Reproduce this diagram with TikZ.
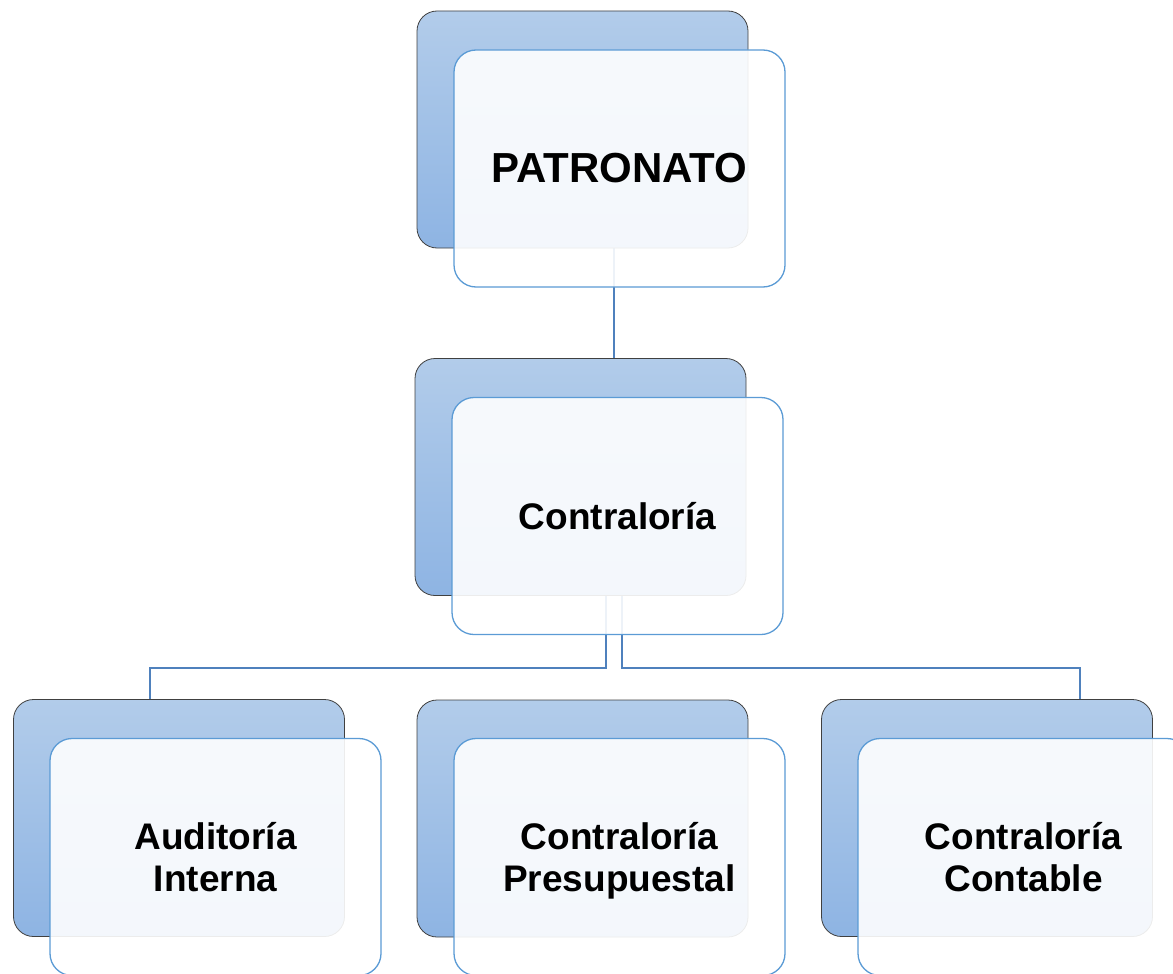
\documentclass[tikz,border=0pt]{standalone}
\usepackage{fontspec}
\setmainfont{Liberation Sans}
\definecolor{conn}{HTML}{4F81BD}
\definecolor{backtop}{HTML}{B2CCEA}
\definecolor{backbot}{HTML}{8EB4E3}
\definecolor{frontline}{HTML}{5B9BD5}
\definecolor{backline}{HTML}{404040}
\pgfdeclarelayer{background}
\pgfsetlayers{background,main}
\begin{document}
\begin{tikzpicture}[x=1pt,y=-1pt,
  backbox/.style={rectangle, rounded corners=20pt, minimum width=331pt, minimum height=237pt,
    draw=backline, line width=0.8pt, top color=backtop, bottom color=backbot, inner sep=0pt},
  frontbox/.style={rectangle, rounded corners=22pt, minimum width=331pt, minimum height=237pt,
    draw=frontline, line width=1.3pt, fill=white, fill opacity=0.9, text opacity=1,
    inner sep=0pt, align=center},
  bigtxt/.style={font=\fontsize{42}{48}\selectfont\bfseries},
  midtxt/.style={font=\fontsize{37}{42.5}\selectfont\bfseries, text depth=0pt},
  connector/.style={draw=conn, line width=2.6pt}]
\useasboundingbox (0,0) rectangle (1173,974);

% back boxes
\node[backbox] (pb) at (582.5,129.5) {};
\node[backbox] (cb) at (580.5,477) {};
\node[backbox] (ab) at (179,818) {};
\node[backbox] (sb) at (582.5,818.5) {};
\node[backbox] (eb) at (987,818) {};

% front boxes with text
\node[frontbox, bigtxt] (pf) at (619.5,168.5) {PATRONATO};
\node[frontbox, midtxt] (cf) at (617.5,516) {Contraloría};
\node[frontbox, midtxt] (af) at (215.5,857) {Auditoría\\Interna};
\node[frontbox, midtxt] (sf) at (619.5,857) {Contraloría\\Presupuestal};
\node[frontbox, midtxt] (ef) at (1023.5,857) {Contraloría\\Contable};

% connectors
\coordinate (j0) at (614,0);
\coordinate (jl) at (606,668);
\coordinate (jr) at (622,668);
\coordinate (xl) at (150,0);
\coordinate (xr) at (1080,0);
\begin{pgfonlayer}{background}
\draw[connector] (pb.south -| j0) -- (cb.north -| j0);
\draw[connector] (cb.south -| jl) -- (jl) -| (ab.north -| xl);
\draw[connector] (cb.south -| jr) -- (jr) -| (eb.north -| xr);
\end{pgfonlayer}
\end{tikzpicture}
\end{document}
